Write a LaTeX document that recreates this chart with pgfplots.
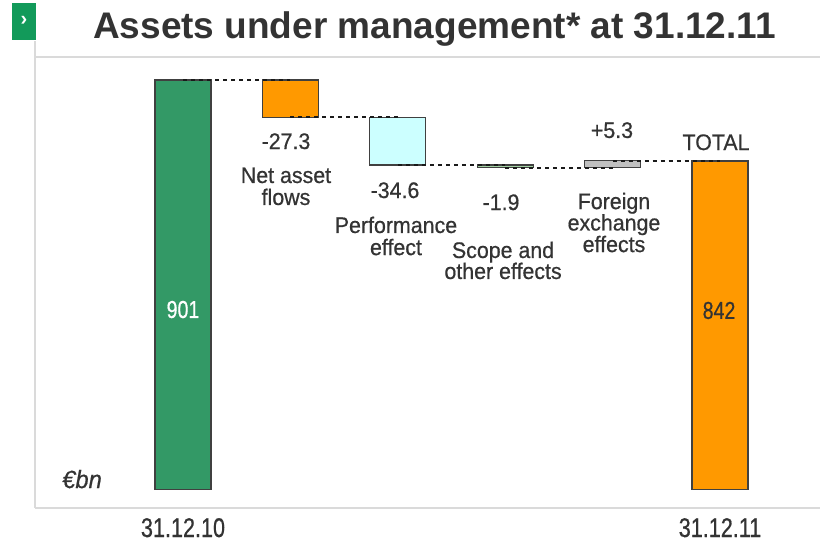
\documentclass[border=0pt]{standalone}
\usepackage{fontspec}
\setmainfont{Liberation Sans}
\usepackage{pgfplots}
\pgfplotsset{compat=1.18}
\newfontfamily\lab[FakeStretch=0.95,FakeBold=0.6]{Liberation Sans}
\newfontfamily\labn[FakeStretch=0.8,FakeBold=0.6]{Liberation Sans}
\definecolor{bargreen}{HTML}{339966}
\definecolor{barorange}{HTML}{FF9900}
\definecolor{barcyan}{HTML}{CCFFFF}
\definecolor{barlgreen}{HTML}{A3D1A3}
\definecolor{bargray}{HTML}{C0C0C0}
\definecolor{edge}{HTML}{404040}
\definecolor{txt}{HTML}{333333}
\definecolor{dashcol}{HTML}{1A1A1A}
\definecolor{framegray}{HTML}{DADADA}
\definecolor{icongreen}{HTML}{129A5A}
\begin{document}
\begin{tikzpicture}[x=1pt,y=1pt]
\useasboundingbox (0,0) rectangle (820,-544);
\fill[white] (0,0) rectangle (820,-544);
% frame
\draw[framegray, line width=1.6pt] (35,-41) -- (35,-508);
\draw[framegray, line width=1.6pt] (35,-57) -- (820,-57);
\draw[framegray, line width=1.6pt] (35,-508) -- (820,-508);
% icon
\fill[icongreen] (12,-3) rectangle (36,-40);
\node[text=white, font=\fontsize{20}{22}\selectfont\bfseries, inner sep=0] at (24,-21) {›};
% title
\node[anchor=base west, font=\fontsize{37}{40}\selectfont\bfseries, text=txt, inner sep=0] at (93,-38) {Assets under management* at 31.12.11};
\begin{axis}[
  at={(35pt,-508pt)}, anchor=south west,
  scale only axis, width=785pt, height=451pt,
  xmin=-1.378, xmax=5.931, ymin=589.3, ymax=917.75,
  axis line style={draw=none},
  major tick length=0pt,
  ytick=\empty,
  xtick={0,5},
  xticklabels={31.12.10,31.12.11},
  xticklabel style={anchor=base, yshift=-29pt, font=\labn\fontsize{27}{30}\selectfont, text=txt},
  clip=false,
]
% bars (from truncated base 603)
\addplot[fill=bargreen, draw=edge, line width=1.2pt] coordinates {(-0.26,603) (0.26,603) (0.26,901) (-0.26,901)} -- cycle;
\addplot[fill=barorange, draw=edge, line width=1.2pt] coordinates {(0.74,901) (1.26,901) (1.26,873.7) (0.74,873.7)} -- cycle;
\addplot[fill=barcyan, draw=edge, line width=1.2pt] coordinates {(1.74,873.7) (2.26,873.7) (2.26,839.1) (1.74,839.1)} -- cycle;
\addplot[fill=barlgreen, draw=edge, line width=1.2pt] coordinates {(2.74,839.1) (3.26,839.1) (3.26,837.2) (2.74,837.2)} -- cycle;
\addplot[fill=bargray, draw=edge, line width=1.2pt] coordinates {(3.74,837.2) (4.26,837.2) (4.26,842.5) (3.74,842.5)} -- cycle;
\addplot[fill=barorange, draw=edge, line width=1.2pt] coordinates {(4.74,603) (5.26,603) (5.26,842) (4.74,842)} -- cycle;
% connectors
\tikzset{conn/.style={draw=dashcol, line width=2pt, dash pattern=on 4pt off 4pt}}
\addplot[conn] coordinates {(0,901) (1,901)};
\addplot[conn] coordinates {(1,873.7) (2,873.7)};
\addplot[conn] coordinates {(2,839.1) (3,839.1)};
\addplot[conn] coordinates {(3,837.2) (4,837.2)};
\addplot[conn] coordinates {(4,842) (5,842)};
% labels
\tikzset{lb/.style={anchor=base, inner sep=0, text=txt, font=\lab\fontsize{22.5}{24}\selectfont}}
\node[lb] at (axis cs:0.959,850.75) {-27.3};
\node[lb] at (axis cs:0.959,826.0) {Net asset};
\node[lb] at (axis cs:0.959,810.0) {flows};
\node[lb] at (axis cs:1.974,815.06) {-34.6};
\node[lb] at (axis cs:1.983,789.6) {Performance};
\node[lb] at (axis cs:1.983,773.5) {effect};
\node[lb] at (axis cs:2.961,806.3) {-1.9};
\node[lb] at (axis cs:2.980,771.4) {Scope and};
\node[lb] at (axis cs:2.980,756.1) {other effects};
\node[lb] at (axis cs:3.994,858.8) {+5.3};
\node[lb] at (axis cs:4.013,807.0) {Foreign};
\node[lb] at (axis cs:4.013,791.4) {exchange};
\node[lb] at (axis cs:4.013,775.7) {effects};
\node[lb] at (axis cs:4.963,850.0) {TOTAL};
\node[anchor=base, inner sep=0, text=white, font=\labn\fontsize{24.5}{26}\selectfont] at (axis cs:0,727.7) {901};
\node[anchor=base, inner sep=0, text=txt, font=\labn\fontsize{24.5}{26}\selectfont] at (axis cs:4.991,727.0) {842};
\node[anchor=base, inner sep=0, text=txt, font=\lab\itshape\fontsize{25}{27}\selectfont] at (axis cs:-0.94,603.8) {€bn};
\end{axis}
\end{tikzpicture}
\end{document}
